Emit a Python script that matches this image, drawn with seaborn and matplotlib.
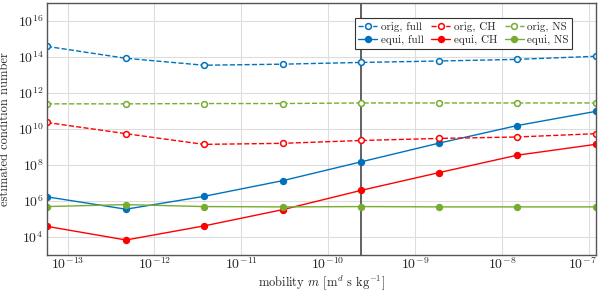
import numpy as np
import pandas as pd
import matplotlib
matplotlib.use("Agg")
import matplotlib.pyplot as plt
import matplotlib.transforms as mtransforms
import seaborn as sns

# mobility values (x) and estimated condition numbers
mobility = [5.8e-14, 4.7e-13, 3.7e-12, 3.0e-11, 2.4e-10, 1.9e-9, 1.5e-8, 1.2e-7]

orig_full = [3.9e14, 8.5e13, 3.5e13, 4.0e13, 5.0e13, 6.0e13, 7.4e13, 1.1e14]
orig_ch = [2.3e10, 5.5e9, 1.4e9, 1.6e9, 2.3e9, 3.0e9, 3.6e9, 5.5e9]
orig_ns = [2.5e11, 2.5e11, 2.6e11, 2.6e11, 2.8e11, 2.8e11, 2.8e11, 2.8e11]
equi_full = [1.7e6, 3.5e5, 1.8e6, 1.35e7, 1.5e8, 1.65e9, 1.55e10, 9.5e10]
equi_ch = [3.9e4, 6.8e3, 4.1e4, 3.3e5, 3.9e6, 3.8e7, 3.5e8, 1.4e9]
equi_ns = [4.9e5, 6.3e5, 4.9e5, 4.7e5, 4.9e5, 4.7e5, 4.7e5, 4.7e5]

x_ticks = [1e-13, 1e-12, 1e-11, 1e-10, 1e-9, 1e-8, 1e-7]
y_ticks = [1e4, 1e6, 1e8, 1e10, 1e12, 1e14, 1e16]
m_marked = 2.4e-10

c_blue = "#0072bd"
c_red = "#ff0000"
c_green = "#77ac30"

sns.set_style("white")
plt.rcParams['font.family'] = ['cmr10', 'DejaVu Serif']
plt.rcParams['mathtext.fontset'] = 'cm'
plt.rcParams['axes.formatter.use_mathtext'] = True
plt.rcParams['font.size'] = 9

fig = plt.figure(figsize=(5.98, 2.94), dpi=100)
ax = fig.add_axes([0.0786, 0.1327, 0.918, 0.857])

# legend order column-wise for 3 columns
series = [
    ("orig, full", orig_full, c_blue, "--", False),
    ("equi, full", equi_full, c_blue, "-", True),
    ("orig, CH", orig_ch, c_red, "--", False),
    ("equi, CH", equi_ch, c_red, "-", True),
    ("orig, NS", orig_ns, c_green, "--", False),
    ("equi, NS", equi_ns, c_green, "-", True),
]

for name, vals, col, ls, filled in series:
    df = pd.DataFrame({"m": mobility, "cond": vals})
    sns.lineplot(data=df, x="m", y="cond", ax=ax, color=col, linestyle=ls,
                 linewidth=1.0, marker="o", markersize=4.2,
                 markerfacecolor=col if filled else "white",
                 markeredgecolor=col, markeredgewidth=1.1, label=name,
                 dashes=False if ls == "-" else (3, 2))

ax.axvline(m_marked, color="#555555", linewidth=1.3, zorder=1)

ax.set_xscale("log")
ax.set_yscale("log")
ax.set_xlim(mobility[0], mobility[-1] * 1.01)
ax.set_ylim(1e3, 1e17)
ax.set_xticks(x_ticks)
ax.set_yticks(y_ticks)
ax.minorticks_off()
ax.tick_params(length=0, labelsize=10)
ax.tick_params(axis="x", pad=1)
ax.tick_params(axis="y", pad=2.5)
ax.grid(True, color="#dddddd", linewidth=0.8)
for s in ax.spines.values():
    s.set_color("#555555")
    s.set_linewidth(1.0)

# nudge last x tick label so it stays inside the figure
last = ax.get_xticklabels()[-1]
last.set_transform(last.get_transform() +
                   mtransforms.ScaledTranslation(-6 / 100, 0, fig.dpi_scale_trans))

ax.set_xlabel(r"mobility $m$ [m$^d$ s kg$^{-1}$]", fontsize=9, labelpad=1)
ax.set_ylabel("estimated condition number", fontsize=9, labelpad=5)

leg = ax.legend(ncol=3, loc="upper right", bbox_to_anchor=(0.967, 0.964),
                fontsize=8, frameon=True, fancybox=False, framealpha=1,
                edgecolor="#333333", handlelength=1.7, columnspacing=0.7,
                handletextpad=0.3, labelspacing=0.3, borderpad=0.35)
leg.get_frame().set_linewidth(0.8)

fig.savefig("out.png", dpi=100)
